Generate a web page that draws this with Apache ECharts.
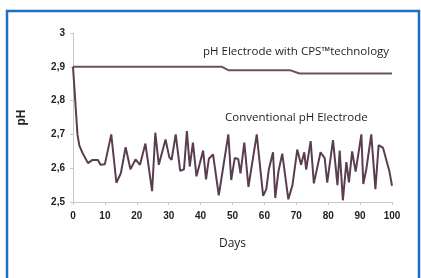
<!DOCTYPE html>
<html>
<head>
<meta charset="utf-8">
<script src="https://cdn.jsdelivr.net/npm/echarts@6/dist/echarts.min.js"></script>
<style>
  html, body { margin: 0; padding: 0; background: #fff; }
  #chart { width: 421px; height: 278px; }
</style>
</head>
<body>
<div id="chart"></div>
<script>
// days / pH
const convDays = [0, 1.4, 2, 3, 4.7, 6, 7.8, 8.6, 10, 12, 13.6, 15, 16.5, 18, 19.6, 21, 22.7, 24.8, 25.8, 26.9, 29, 30.2, 30.9, 32.2, 33.6, 34.8, 35.7, 36.6, 37.6, 38.7, 40.8, 41.7, 42.6, 43.9, 45.7, 48.7, 49.6, 50.7, 51.8, 52.5, 53.7, 55, 57.6, 59.6, 60.6, 61.4, 62.7, 63.4, 64.4, 65.6, 67.5, 68.8, 70.3, 71.5, 72.5, 73.1, 74.5, 75.5, 77.6, 78.9, 79.7, 81.5, 82.9, 83.6, 84.6, 85.7, 86.5, 87.5, 88.6, 90.4, 91, 92, 93.5, 94.8, 95.8, 97.2, 99.2, 100]
const convPH = [2.9, 2.70, 2.667, 2.645, 2.615, 2.624, 2.624, 2.61, 2.612, 2.70, 2.557, 2.585, 2.662, 2.597, 2.626, 2.61, 2.673, 2.532, 2.705, 2.61, 2.685, 2.632, 2.625, 2.70, 2.592, 2.597, 2.71, 2.605, 2.676, 2.576, 2.652, 2.567, 2.628, 2.641, 2.52, 2.70, 2.565, 2.63, 2.627, 2.585, 2.676, 2.545, 2.70, 2.518, 2.538, 2.597, 2.647, 2.512, 2.59, 2.643, 2.508, 2.55, 2.655, 2.61, 2.647, 2.596, 2.68, 2.555, 2.647, 2.63, 2.557, 2.683, 2.55, 2.652, 2.505, 2.618, 2.558, 2.65, 2.59, 2.70, 2.553, 2.6, 2.70, 2.538, 2.668, 2.66, 2.59, 2.548]
const cpsDays = [0, 46.7, 48.7, 68, 71, 100]
const cpsPH = [2.9, 2.9, 2.89, 2.89, 2.88, 2.88]
const xTicks = [0, 10, 20, 30, 40, 50, 60, 70, 80, 90, 100]

const lineColor = '#5a3e4f'
const labelFont = 'Liberation Sans'

const chart = echarts.init(document.getElementById('chart'))
chart.setOption({
  animation: false,
  grid: { left: 73, right: 29, top: 33, bottom: 76 },
  graphic: [
    {
      type: 'rect',
      shape: { x: 7, y: 11, width: 412, height: 300 },
      style: { fill: 'none', stroke: '#1f6fc0', lineWidth: 2.5 },
      silent: true
    },
    {
      type: 'text', left: 203, top: 46,
      style: { text: 'pH Electrode with CPS™technology', fill: '#1e1e1e', font: '500 11.5px "Open Sans"' }
    },
    {
      type: 'text', left: 225, top: 112,
      style: { text: 'Conventional pH Electrode', fill: '#1e1e1e', font: '500 11.5px "Open Sans"' }
    }
  ],
  xAxis: {
    type: 'value', min: 0, max: 100, interval: 10,
    name: 'Days', nameLocation: 'middle', nameGap: 36,
    nameTextStyle: { fontFamily: 'Open Sans', fontSize: 12, color: '#1e1e1e' },
    axisLine: { lineStyle: { color: '#c8c8c8', width: 1 } },
    axisTick: { show: true, length: 3, lineStyle: { color: '#c8c8c8' } },
    axisLabel: {
      fontFamily: labelFont, fontWeight: 'bold', fontSize: 10, color: '#222', margin: 9,
      formatter: v => xTicks.includes(v) ? String(v) : ''
    },
    splitLine: { show: false }
  },
  yAxis: {
    type: 'value', min: 2.5, max: 3, interval: 0.1,
    name: 'pH', nameLocation: 'middle', nameGap: 45, nameRotate: 90,
    nameTextStyle: { fontFamily: labelFont, fontWeight: 'bold', fontSize: 12, color: '#222' },
    axisLine: { show: true, lineStyle: { color: '#c8c8c8', width: 1 } },
    axisTick: { show: true, length: 3, lineStyle: { color: '#c8c8c8' } },
    axisLabel: {
      fontFamily: labelFont, fontWeight: 'bold', fontSize: 10, color: '#222', margin: 8,
      formatter: v => v === 3 ? '3' : v.toFixed(1).replace('.', ',')
    },
    splitLine: { show: false }
  },
  series: [
    {
      name: 'CPS', type: 'line', symbol: 'none',
      data: cpsDays.map((d, i) => [d, cpsPH[i]]),
      lineStyle: { color: '#6a5060', width: 2 }
    },
    {
      name: 'Conventional', type: 'line', symbol: 'none',
      data: convDays.map((d, i) => [d, convPH[i]]),
      lineStyle: { color: lineColor, width: 2 }
    }
  ]
})
</script>
</body>
</html>
